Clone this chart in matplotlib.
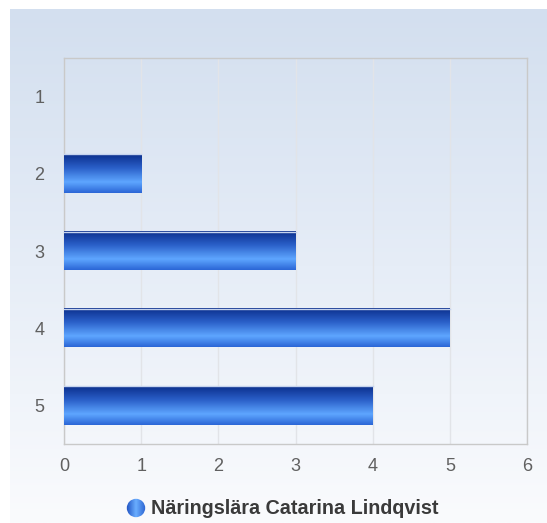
import matplotlib
matplotlib.use("Agg")
import matplotlib.pyplot as plt
import numpy as np
from matplotlib.colors import LinearSegmentedColormap

plt.rcParams["font.family"] = ["Liberation Sans", "DejaVu Sans"]

categories = ["1", "2", "3", "4", "5"]
values = [0, 1, 3, 5, 4]
series_name = "Näringslära Catarina Lindqvist"
xticks = [0, 1, 2, 3, 4, 5, 6]

W, H = 547, 523
fig = plt.figure(figsize=(W / 100, H / 100), dpi=100)
fig.patch.set_facecolor("white")

# background gradient panel
bg = fig.add_axes([10 / W, 0, 1 - 10 / W, 1 - 9 / H], zorder=0)
grad = np.linspace(0, 1, 256).reshape(-1, 1)
bg_cmap = LinearSegmentedColormap.from_list("bg", ["#d3dfef", "#e6edf7", "#fafbfd"])
bg.imshow(grad, aspect="auto", cmap=bg_cmap, extent=[0, 1, 0, 1], origin="upper")
bg.set_axis_off()

ax = fig.add_axes([64 / W, 1 - 444 / H, (527 - 64) / W, (444 - 58) / H], zorder=1)
ax.patch.set_alpha(0)

bar_cmap = LinearSegmentedColormap.from_list(
    "bar", [(0, "#0b2f8c"), (0.35, "#2a5fc8"), (0.72, "#5ea6ff"), (1.0, "#2b66d6")])
bar_grad = np.linspace(0, 1, 128).reshape(-1, 1)
h = 0.5
ypos = np.arange(len(categories))
for y, v in zip(ypos, values):
    if v <= 0:
        continue
    ax.imshow(bar_grad, aspect="auto", cmap=bar_cmap, origin="upper",
              extent=[0, v, y + h / 2, y - h / 2], zorder=3, interpolation="bilinear")
    ax.plot([0, v], [y - h / 2, y - h / 2], color="#c5d3ee", lw=1, zorder=4)

ax.set_xlim(0, 6)
ax.set_ylim(len(categories) - 0.5, -0.5)
ax.set_aspect("auto")
ax.set_xticks(xticks)
ax.set_xticklabels([str(t) for t in xticks])
ax.set_yticks(ypos)
ax.set_yticklabels(categories)
ax.grid(axis="x", color="#e2e4e8", lw=1, zorder=0)
ax.set_axisbelow(True)
for s in ax.spines.values():
    s.set_color("#c9c9c9")
    s.set_linewidth(1)
ax.tick_params(length=0, colors="#606060", labelsize=13)
ax.tick_params(axis="x", pad=10)
ax.tick_params(axis="y", pad=14)

# legend
lx, ly = 136 / W, 1 - 508 / H
leg = fig.add_axes([lx - 10 / W, ly - 10 / H, 20 / W, 20 / H], zorder=2)
leg.set_xlim(-1, 1); leg.set_ylim(-1, 1); leg.set_axis_off()
circ_cmap = LinearSegmentedColormap.from_list("c", ["#1d4fc0", "#6aaeff", "#2a62d0"])
im = leg.imshow(np.linspace(0, 1, 64).reshape(1, -1), cmap=circ_cmap, extent=[-1, 1, -1, 1], aspect="auto")
circle = plt.Circle((0, 0), 0.92, transform=leg.transData)
im.set_clip_path(circle)
fig.text(151 / W, ly, series_name, ha="left", va="center", fontsize=14.2,
         fontweight="bold", color="#3a3a3a")

fig.savefig("out.png", dpi=100, facecolor="white")
